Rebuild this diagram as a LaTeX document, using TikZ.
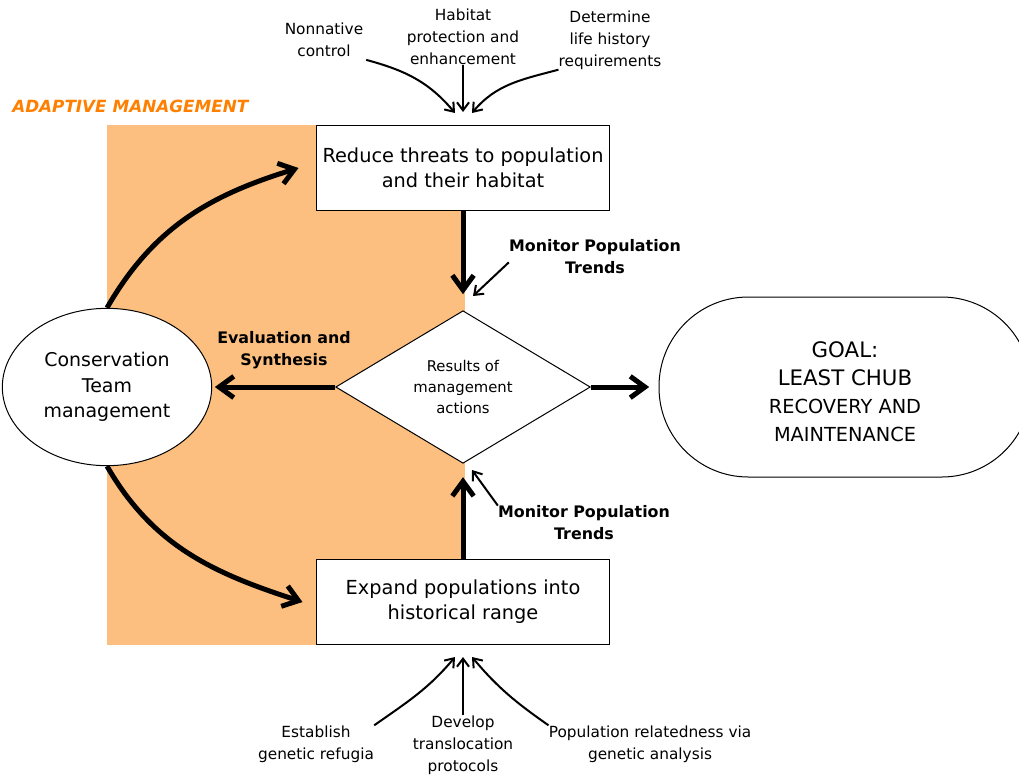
\documentclass[tikz,border=0pt]{standalone}
\usepackage{fontspec}
\setmainfont{DejaVu Sans}
\usepackage{tikz}
\usetikzlibrary{arrows.meta,shapes.geometric,calc}
\definecolor{amOrange}{RGB}{252,191,127}
\definecolor{amText}{RGB}{255,128,0}
\tikzset{
  actBox/.style={ draw, line width=0.75pt, fill=white, minimum width=220pt, minimum height=64pt, align=center, font=\fontsize{14.5pt}{18.75pt}\selectfont }
}
\tikzset{
  resDia/.style={ draw, diamond, line width=0.75pt, fill=white, minimum width=191pt, minimum height=105pt, inner sep=0pt, align=center, font=\fontsize{11.1pt}{15.75pt}\selectfont }
}
\tikzset{
  teamEll/.style={ draw, ellipse, line width=0.75pt, fill=white, minimum width=157pt, minimum height=118pt, inner sep=0pt, align=center, font=\fontsize{14.2pt}{19pt}\selectfont }
}
\tikzset{
  goalBox/.style={ draw, rounded corners=67pt, line width=0.75pt, fill=white, minimum width=279pt, minimum height=135pt, align=center, font=\fontsize{16pt}{21pt}\selectfont }
}
\tikzset{
  lbl/.style={ align=center, inner sep=0pt, font=\fontsize{11.5pt}{16.5pt}\selectfont }
}
\tikzset{
  monLbl/.style={ align=center, inner sep=0pt, font=\bfseries\fontsize{11.9pt}{16.5pt}\selectfont }
}
\tikzset{
  bigArr/.style={ line width=3.75pt, -{Straight Barb[length=11pt,width=16pt]} }
}
\tikzset{
  thinArr/.style={ line width=1.5pt, -{Straight Barb[length=6pt,width=9pt]} }
}

\begin{document}
\begin{tikzpicture}[x=0.75pt, y=-0.75pt]
      \clip (0,0) rectangle (1019,776);
      % adaptive management area
      \fill[amOrange] (107,125) rectangle (465,645);
      \node[anchor=west, inner sep=0pt, text=amText, font=\bfseries\itshape\fontsize{12.6pt}{14pt}\selectfont] (amTitle) at (12,106) {ADAPTIVE MANAGEMENT};

      \node[actBox] (reduce) at (463,168) {Reduce threats to population\\and their habitat};
      \node[actBox] (expand) at (463,602) {Expand populations into\\historical range};
      \node[resDia] (results) at (463,387) {Results of\\management\\actions};
      \node[teamEll] (team) at (107,387) {Conservation\\Team\\management};
      \node[goalBox] (goal) at (845,387) {\rule{0pt}{19.5pt}GOAL:\\LEAST CHUB\\{\fontsize{14.5pt}{20pt}\selectfont RECOVERY AND}\\{\fontsize{14.5pt}{20pt}\selectfont MAINTENANCE}};

      \node[monLbl] (monTop) at (595,257) {Monitor Population\\Trends};
      \node[monLbl] (monBot) at (584,523) {Monitor Population\\Trends};
      \node[monLbl] (evalSyn) at (284,350) {Evaluation and\\Synthesis};

      \node[lbl] (nonnat) at (324,40) {Nonnative\\control};
      \node[lbl] (habitat) at (463,37) {Habitat\\protection and\\enhancement};
      \node[lbl] (determ) at (610,40) {Determine\\life history\\requirements};
      \node[lbl] (refugia) at (316,744) {Establish\\genetic refugia};
      \node[lbl] (transloc) at (463,745) {Develop\\translocation\\protocols};
      \node[lbl] (related) at (650,744) {Population relatedness via\\genetic analysis};

      \coordinate (inTopL) at (455,113);
      \coordinate (inTopM) at (463,112);
      \coordinate (inTopR) at (472,113);
      \coordinate (inBotL) at (455,657);
      \coordinate (inBotM) at (463,657);
      \coordinate (inBotR) at (472,657);
      \coordinate (monTopTip) at (473,296);
      \coordinate (monBotTip) at (472,470);

      % main flow
      \draw[bigArr, shorten >=12pt] (reduce.south) -- (results.north);
      \draw[bigArr, shorten >=10pt] (expand.north) -- (results.south);
      \draw[bigArr, shorten >=2pt] (results.west) -- (team.east);
      \draw[bigArr, shorten >=7pt] (results.east) -- (goal.west);
      \draw[bigArr] (team.north) to[out=60, in=197] ([xshift=-13pt]reduce.west);
      \draw[bigArr] (team.south) to[out=-60, in=162] ([xshift=-10pt]expand.west);

      % monitoring
      \draw[thinArr] ([yshift=-4pt]monTop.west) -- (monTopTip);
      \draw[thinArr] (monBot.north west) -- (monBotTip);

      % inputs
      \draw[thinArr] ([xshift=2pt,yshift=-2pt]nonnat.south east) to[out=-15, in=130] (inTopL);
      \draw[thinArr] (habitat.south) -- (inTopM);
      \draw[thinArr] (determ.south west) to[out=195, in=50] (inTopR);
      \draw[thinArr] (refugia.north east) to[out=35, in=-130] (inBotL);
      \draw[thinArr] (transloc.north) -- (inBotM);
      \draw[thinArr] (related.north west) to[out=145, in=-50] (inBotR);
    \end{tikzpicture}
\end{document}
